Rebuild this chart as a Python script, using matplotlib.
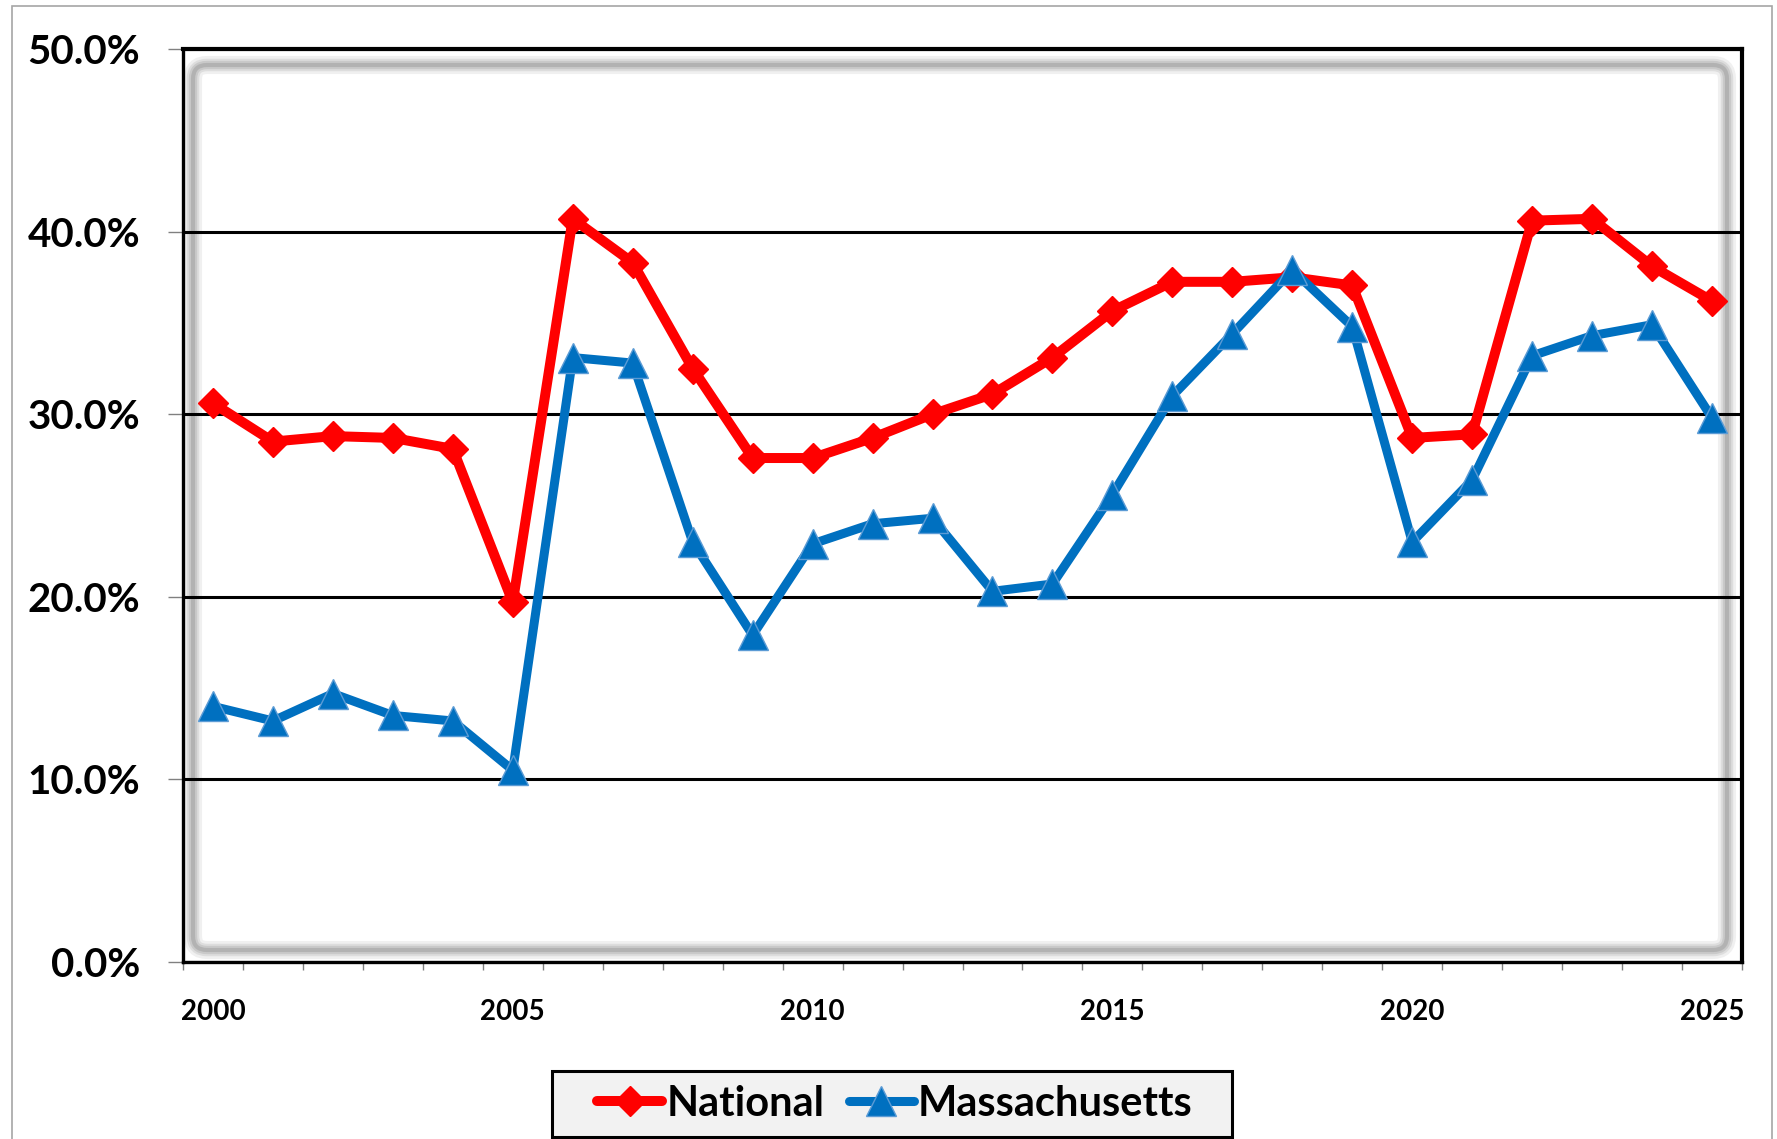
import matplotlib
matplotlib.use('Agg')
import numpy as np
import matplotlib.pyplot as plt
from matplotlib.patches import FancyBboxPatch, Rectangle
from matplotlib.transforms import IdentityTransform

# data (percent)
years = list(range(2000, 2026))
national = [30.6, 28.5, 28.8, 28.7, 28.1, 19.7, 40.7, 38.3, 32.5, 27.6, 27.6, 28.7, 30.0,
            31.1, 33.1, 35.65, 37.25, 37.25, 37.5, 37.05, 28.7, 28.9, 40.6, 40.7, 38.1, 36.2]
massachusetts = [14.0, 13.2, 14.7, 13.5, 13.2, 10.5, 33.1, 32.8, 23.0, 17.9, 22.9, 24.0, 24.3,
                 20.3, 20.7, 25.6, 31.0, 34.4, 37.9, 34.8, 23.0, 26.4, 33.2, 34.3, 34.9, 29.8]
label_years = [2000, 2005, 2010, 2015, 2020, 2025]
y_ticks = [0, 10, 20, 30, 40, 50]

plt.rcParams['font.family'] = ['Lato', 'DejaVu Sans']
plt.rcParams['font.weight'] = 'bold'

W, H = 1777, 1139
fig = plt.figure(figsize=(W / 100, H / 100), dpi=100)
ax = fig.add_axes([183 / W, 1 - 962 / H, (1742 - 183) / W, (962 - 49) / H])

x = np.arange(len(years))
ax.plot(x, national, color='#FF0000', lw=7.2, marker='D', ms=15, mec='#FF0000',
        solid_capstyle='round', label='National', zorder=3)
ax.plot(x, massachusetts, color='#0070C0', lw=6.5, marker='^', ms=21, mec='#5B9BD5',
        mew=1, solid_capstyle='round', label='Massachusetts', zorder=4)

ax.set_xlim(-0.5, len(years) - 0.5)
ax.set_ylim(0, 50)
ax.set_yticks(y_ticks)
ax.set_yticklabels(['%.1f%%' % v for v in y_ticks])
ax.yaxis.grid(True, color='black', lw=2.2)

ax.set_xticks([years.index(y) for y in label_years])
ax.set_xticklabels([str(y) for y in label_years])
ax.set_xticks(np.arange(-0.5, len(years), 1), minor=True)

ax.tick_params(axis='y', direction='out', length=10.8, width=1, color='#808080',
               pad=20, labelsize=29)
ax.tick_params(axis='x', which='major', length=0, pad=27, labelsize=20)
ax.tick_params(axis='x', which='minor', direction='out', length=6, width=1, color='#808080')

for side in ['top', 'right']:
    ax.spines[side].set_linewidth(3)
for side in ['left', 'bottom']:
    ax.spines[side].set_linewidth(2.4)
for s in ax.spines.values():
    s.set_color('black')

# soft inner shadow of the plot area
for lw, a in [(13, 0.10), (9, 0.14), (6, 0.18), (3, 0.25)]:
    ax.add_patch(FancyBboxPatch((193, H - 950), 1727 - 193, 950 - 65,
                                boxstyle='round,pad=0,rounding_size=14', fc='none',
                                ec='#707070', lw=lw, alpha=a, transform=IdentityTransform(),
                                clip_on=False, zorder=0.5))

# outer chart border
fig.add_artist(Rectangle((12, -10), 1772 - 12, H - 5.5 + 10, fill=False, ec='#a6a6a6',
                         lw=1.2, transform=IdentityTransform()))

# legend box drawn by hand so it can be wider than the entries
fig.add_artist(Rectangle((552, H - 1137), 1232 - 552, 1137 - 1071, fc='#f2f2f2',
                         ec='black', lw=2.2, transform=IdentityTransform(), zorder=1))
leg = fig.legend(loc='center', bbox_to_anchor=(895 / W, 1 - 1104 / H), ncol=2,
                 fontsize=30, handlelength=1.55, handletextpad=0.1, columnspacing=0.6,
                 frameon=False)
leg.set_zorder(2)

fig.savefig('out.png', dpi=100)
